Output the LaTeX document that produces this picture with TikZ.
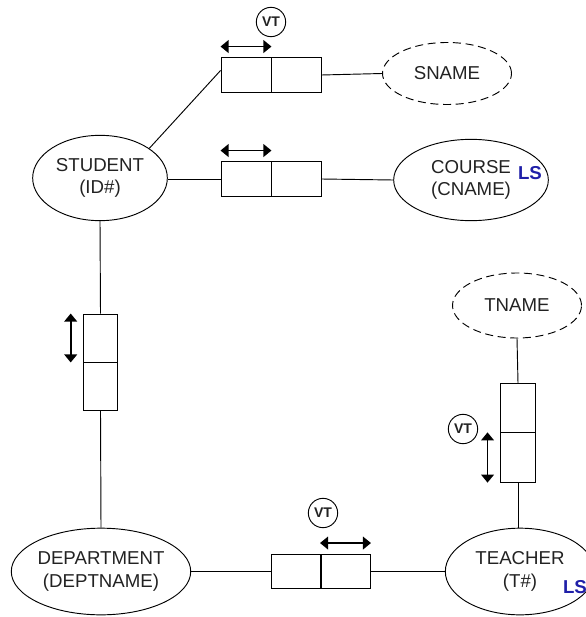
\documentclass[tikz,border=0pt]{standalone}
\usepackage{fontspec}
\setmainfont{Liberation Sans}
\usetikzlibrary{arrows.meta,shapes.geometric}

\definecolor{inkgray}{HTML}{222222}
\definecolor{lsblue}{HTML}{1F1FA8}

\begin{document}
\begin{tikzpicture}[x=0.75pt,y=-0.75pt,
  every node/.style={text=inkgray},
  entity/.style={ellipse, draw=black, line width=0.7pt, inner sep=0pt, align=center,
    font=\fontsize{14}{17}\selectfont},
  attr/.style={entity, dash pattern=on 6pt off 3.5pt},
  hcell/.style={draw, rectangle, line width=0.7pt, minimum width=37.5pt,
    minimum height=26pt, inner sep=0pt},
  vcell/.style={draw, rectangle, line width=0.7pt, minimum width=26pt,
    minimum height=36pt, inner sep=0pt},
  vt/.style={circle, draw, line width=0.7pt, minimum size=22pt, inner sep=0pt,
    font=\bfseries\fontsize{10.5}{11}\selectfont},
  ls/.style={font=\bfseries\fontsize{14}{16}\selectfont, text=lsblue},
  link/.style={line width=0.7pt},
  move/.style={line width=1.2pt,
    {Triangle[length=6pt,width=9.5pt]}-{Triangle[length=6pt,width=9.5pt]}}
]
\useasboundingbox (0,0) rectangle (585,617);

% entities and attributes
\node[entity, minimum width=101pt, minimum height=64pt] (student) at (100,178) {STUDENT\\(ID\#)};
\node[entity, minimum width=116pt, minimum height=61pt] (course) at (471,180) {COURSE\\(CNAME)};
\node[attr, minimum width=96.75pt, minimum height=46.5pt] (sname) at (447,73.5) {SNAME};
\node[attr, minimum width=96.75pt, minimum height=48.75pt] (tname) at (517,305.5) {TNAME};
\node[entity, minimum width=133.5pt, minimum height=65pt] (dept) at (101,571.5) {DEPARTMENT\\(DEPTNAME)};
\node[entity, minimum width=112pt, minimum height=65pt] (teacher) at (520,571.5) {TEACHER\\(T\#)};

% LS markers
\node[ls] (ls1) at (530,173) {LS};
\node[ls] (ls2) at (575,587) {LS};

% two-cell relationship boxes
\node[hcell] (r1a) at (246,75) {};
\node[hcell] (r1b) at (296,75) {};
\node[hcell] (r2a) at (246,179) {};
\node[hcell] (r2b) at (296,179) {};
\node[vcell] (r3a) at (100.5,338) {};
\node[vcell] (r3b) at (100.5,386) {};
\node[vcell, minimum height=37pt] (r4a) at (518,408) {};
\node[vcell, minimum height=37pt] (r4b) at (518,457.5) {};
\node[hcell] (r5a) at (296,571.5) {};
\node[hcell] (r5b) at (345.5,571.5) {};

% VT markers
\node[vt] (vt1) at (271,22) {VT};
\node[vt] (vt2) at (463,429) {VT};
\node[vt] (vt3) at (323,513) {VT};

% connectors
\draw[link] (student.31) -- (r1a.170);
\draw[link] (r1b.east) -- (sname.west);
\draw[link] (r2a.west) -- (student.east |- r2a.west);
\draw[link] (r2b.east) -- (course.west);
\draw[link] (student.south) -- (r3a.north);
\draw[link] (r3b.south) -- (dept.north);
\draw[link] (dept.east) -- (r5a.west);
\draw[link] (r5b.east) -- (teacher.west);
\draw[link] (teacher.north -| r4b.south) -- (r4b.south);
\draw[link] (r4a.north) -- (tname.south);

% movement arrows
\draw[move] ([yshift=8pt]r1a.north west) -- ([yshift=8pt]r1a.north east);
\draw[move] ([yshift=8pt]r2a.north west) -- ([yshift=8pt]r2a.north east);
\draw[move] ([xshift=-9pt]r3a.north west) -- ([xshift=-9pt]r3a.south west);
\draw[move] ([xshift=-9.5pt]r4b.north west) -- ([xshift=-9.5pt]r4b.south west);
\draw[move] ([yshift=8pt]r5b.north west) -- ([yshift=8pt]r5b.north east);
\end{tikzpicture}
\end{document}
